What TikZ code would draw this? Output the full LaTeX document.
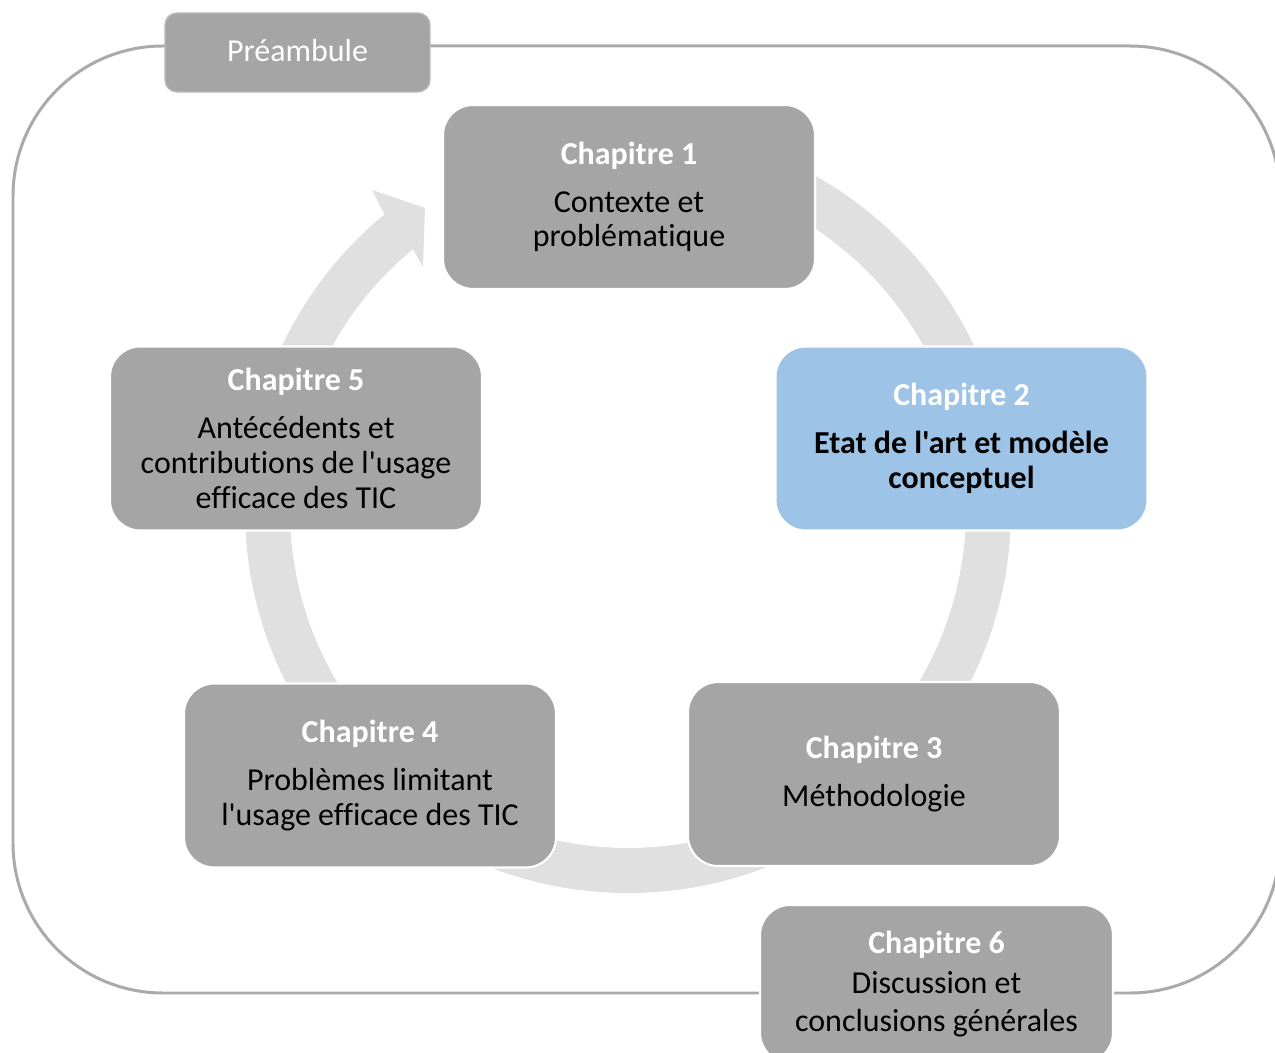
\documentclass[tikz,border=0pt]{standalone}
\usepackage{fontspec}
\newfontfamily\carl{Carlito}[Ligatures=NoCommon]
\definecolor{boxgray}{RGB}{165,165,165}
\definecolor{ringgray}{RGB}{224,224,224}
\definecolor{framegray}{RGB}{171,169,169}
\definecolor{chblue}{RGB}{157,195,230}
\newcommand{\hd}[1]{{\bfseries\color{white}#1}}
\begin{document}
\begin{tikzpicture}[x=0.02cm,y=-0.02cm,
  chap/.style={draw=white, line width=1.2pt, fill=boxgray, rounded corners=0.6cm,
    minimum width=7.44cm, minimum height=3.68cm, align=center, inner sep=0pt,
    font=\carl\fontsize{18.2pt}{19.8pt}\selectfont},
  pre/.style={draw=framegray!80!white, line width=0.8pt, fill=boxgray, rounded corners=0.24cm,
    minimum width=5.3cm, minimum height=1.58cm, inner sep=0pt, text=white,
    font=\carl\fontsize{18.2pt}{20pt}\selectfont}]
\useasboundingbox (0,0) rectangle (1275,1053);
\clip (0,0) rectangle (1275,1053);
% outer frame
\draw[framegray, line width=1.7pt, rounded corners=3cm] (13,46) rectangle (1280,993);
% cycle ring with arrow
\fill[ringgray] (628,510) ++(-90:383) arc[start angle=-90, end angle=230.5, radius=383]
  -- (372,190) -- (425,208) -- (423,267) -- (413,249.2)
  arc[start angle=230.5, end angle=-90, radius=338] -- cycle;
% boxes
\node[pre] (pre) at (297.5,52.5) {\raisebox{2.3pt}{Préambule}};
\node[chap] (c1) at (629,197) {\hd{Chapitre 1}\\[7.4pt]Contexte et\\problématique};
\node[chap, fill=chblue] (c2) at (961.5,438.5) {\hd{Chapitre 2}\\[7.4pt]\textbf{Etat de l'art et modèle}\\\textbf{conceptuel}};
\node[chap] (c3) at (874,774) {\hd{Chapitre 3}\\[7.4pt]Méthodologie};
\node[chap] (c4) at (370,775.5) {\hd{Chapitre 4}\\[7.4pt]Problèmes limitant\\l'usage efficace des TIC};
\node[chap] (c5) at (296,438.5) {\hd{Chapitre 5}\\[7.4pt]Antécédents et\\contributions de l'usage\\efficace des TIC};
\node[chap, minimum width=7.06cm, minimum height=3.16cm] (c6) at (936.5,984) {\hd{Chapitre 6}\\[2.8pt]Discussion et\\[1.7pt]conclusions générales};
\end{tikzpicture}
\end{document}
